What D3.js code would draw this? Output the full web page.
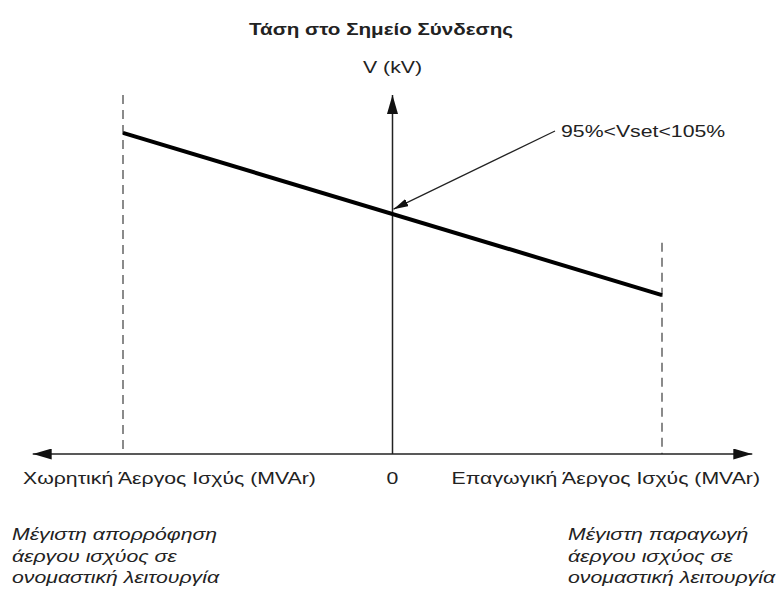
<!DOCTYPE html>
<html lang="el">
<head>
    <meta charset="UTF-8">
    <title>Τάση στο Σημείο Σύνδεσης</title>
    <style>
        body { margin: 0; background: #fff; }
        text { font-family: "Liberation Sans", Arial, sans-serif; fill: #222; }
    </style>
</head>
<body>
    <svg id="chart"></svg>

    <script src="https://d3js.org/d3.v7.min.js"></script>
    <script>
        // Data (Q in p.u. of max reactive power, V in % of axis height)
        var lineQ = [-1, 1];
        var lineV = [89.7, 44.4];
        var limitQ = [-1, 1];
        var limitTopV = [100.3, 59];
        var setPoint = { q: 0, v: 67 };
        var axisQ = [-1.335, 1.335];
        var axisTopV = 100.3;
        var title = "Τάση στο Σημείο Σύνδεσης";
        var yLabel = "V (kV)";
        var xLabelLeft = "Χωρητική Άεργος Ισχύς (MVAr)";
        var xLabelRight = "Επαγωγική Άεργος Ισχύς (MVAr)";
        var zeroLabel = "0";
        var annotation = "95%<Vset<105%";
        var noteLeft = ["Μέγιστη απορρόφηση", "άεργου ισχύος σε", "ονομαστική λειτουργία"];
        var noteRight = ["Μέγιστη παραγωγή", "άεργου ισχύος σε", "ονομαστική λειτουργία"];

        var W = 778, H = 595;
        var stretch = 1.25; // the original drawing is horizontally stretched
        var svg = d3.select("#chart").attr("width", W).attr("height", H);

        var x = d3.scaleLinear().domain([-1, 1]).range([123, 662]);
        var y = d3.scaleLinear().domain([0, 100]).range([454, 96]);

        // Markers
        var defs = svg.append("defs");
        var addMarker = (id, len, wid) => {
            defs.append("marker")
                .attr("id", id)
                .attr("viewBox", "0 0 " + len + " " + wid)
                .attr("refX", len).attr("refY", wid / 2)
                .attr("markerUnits", "userSpaceOnUse")
                .attr("markerWidth", len).attr("markerHeight", wid)
                .attr("orient", "auto-start-reverse")
                .append("path")
                .attr("d", "M0,0 L" + len + "," + (wid / 2) + " L0," + wid + " Z")
                .attr("fill", "#111");
        };
        addMarker("arrow-big", 19, 11);
        addMarker("arrow-small", 15, 8);

        // Dashed limit lines
        svg.selectAll(".limit")
            .data(limitQ)
            .enter()
            .append("line")
            .attr("class", "limit")
            .attr("x1", d => x(d)).attr("x2", d => x(d))
            .attr("y1", (d, i) => y(limitTopV[i]))
            .attr("y2", y(0))
            .attr("stroke", "#8a8a8a")
            .attr("stroke-width", 2)
            .attr("stroke-dasharray", "9,6");

        // Axes
        svg.append("line")
            .attr("x1", x(axisQ[0])).attr("x2", x(axisQ[1]))
            .attr("y1", y(0)).attr("y2", y(0))
            .attr("stroke", "#222").attr("stroke-width", 1.5)
            .attr("marker-start", "url(#arrow-big)")
            .attr("marker-end", "url(#arrow-big)");

        svg.append("line")
            .attr("x1", x(0)).attr("x2", x(0))
            .attr("y1", y(0)).attr("y2", y(axisTopV))
            .attr("stroke", "#222").attr("stroke-width", 1.5)
            .attr("marker-end", "url(#arrow-big)");

        // Characteristic line
        var lineGen = d3.line().x(d => x(d[0])).y(d => y(d[1]));
        svg.append("path")
            .datum(d3.zip(lineQ, lineV))
            .attr("d", lineGen)
            .attr("fill", "none")
            .attr("stroke", "#000")
            .attr("stroke-width", 4);

        // Annotation arrow
        svg.append("line")
            .attr("x1", 555).attr("y1", 131)
            .attr("x2", x(setPoint.q) + 1).attr("y2", y(setPoint.v) - 5)
            .attr("stroke", "#222").attr("stroke-width", 1.2)
            .attr("marker-end", "url(#arrow-small)");

        // Texts, drawn with the horizontal stretch of the original
        var addText = (str, xPos, yPos, size, anchor, weight, style) => {
            return svg.append("text")
                .attr("transform", "translate(" + xPos + "," + yPos + ") scale(" + stretch + ",1)")
                .attr("text-anchor", anchor || "start")
                .style("font-size", size + "px")
                .style("font-weight", weight || "normal")
                .style("font-style", style || "normal")
                .text(str);
        };

        addText(annotation, 561, 137, 17);
        addText(title, 381, 35, 16.5, "middle", "bold");
        addText(yLabel, x(0), 73, 17, "middle");
        addText(xLabelLeft, 23, 484, 17);
        addText(zeroLabel, x(0), 484, 17, "middle");
        addText(xLabelRight, 760, 484, 17, "end");

        var drawNote = (lines, xPos) => {
            lines.forEach((d, i) => {
                addText(d, xPos, 540 + i * 21.5, 17, "start", "normal", "italic");
            });
        };
        drawNote(noteLeft, 12);
        drawNote(noteRight, 568);
    </script>
</body>
</html>
